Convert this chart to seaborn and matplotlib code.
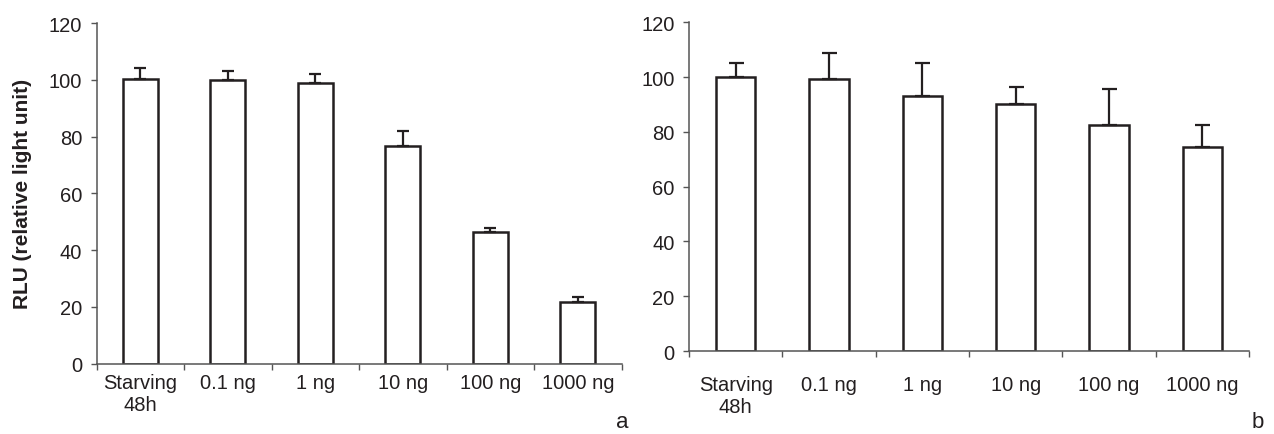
import matplotlib
matplotlib.use("Agg")
import matplotlib.pyplot as plt
import numpy as np
import pandas as pd
import seaborn as sns

categories = ["Starving\n48h", "0.1 ng", "1 ng", "10 ng", "100 ng", "1000 ng"]
rlu_a = [100.2, 100.0, 98.9, 76.7, 46.4, 21.7]
err_a = [4.1, 3.2, 3.0, 5.3, 1.3, 1.9]
rlu_b = [100.0, 99.4, 93.2, 90.0, 82.5, 74.4]
err_b = [5.1, 9.5, 11.9, 6.4, 13.1, 8.1]
yticks = [0, 20, 40, 60, 80, 100, 120]

sns.set_style("white")
plt.rcParams["font.family"] = ["Liberation Sans", "DejaVu Sans"]
text_col = "#231f20"
axis_col = "#555555"

fig = plt.figure(figsize=(12.74, 4.35), dpi=100)
ax_a = fig.add_axes([0.0759, 0.1616, 0.4121, 0.7832])
ax_b = fig.add_axes([0.5408, 0.1908, 0.4396, 0.7556])


def draw_panel(ax, vals, errs, width, cap, xpad):
    df = pd.DataFrame({"cat": categories, "rlu": vals})
    sns.barplot(data=df, x="cat", y="rlu", ax=ax, color="white", edgecolor=text_col,
                linewidth=1.8, width=width, errorbar=None)
    pos = np.arange(len(categories))
    ax.errorbar(pos, vals, yerr=[np.zeros(len(vals)), errs], fmt="none",
                ecolor=text_col, elinewidth=1.6, capsize=cap, capthick=1.6)
    ax.set_xlim(-0.5, len(categories) - 0.5)
    ax.set_ylim(0, 120)
    ax.set_yticks(yticks)
    ax.set_yticklabels([str(t) for t in yticks])
    ax.set_xticks(np.arange(len(categories) + 1) - 0.5)
    ax.set_xticklabels([])
    ax.set_xticks(pos, minor=True)
    ax.set_xticklabels(categories, minor=True, fontsize=14.5, color=text_col)
    ax.tick_params(axis="x", which="major", direction="out", length=4.5, width=1,
                   color=axis_col, bottom=True)
    ax.tick_params(axis="x", which="minor", length=0, pad=xpad, bottom=True)
    ax.tick_params(axis="y", direction="out", length=4.5, width=1, color=axis_col,
                   labelsize=14.5, labelcolor=text_col, pad=6, left=True)
    for s in ["top", "right"]:
        ax.spines[s].set_visible(False)
    for s in ["left", "bottom"]:
        ax.spines[s].set_color(axis_col)
        ax.spines[s].set_linewidth(1.1)
    ax.set_xlabel("")
    ax.set_ylabel("")


draw_panel(ax_a, rlu_a, err_a, 0.40, 4.1, 7)
draw_panel(ax_b, rlu_b, err_b, 0.424, 5.4, 17)

ax_a.set_ylabel("RLU (relative light unit)", fontsize=15, fontweight="bold",
                color=text_col, labelpad=12)

# panel letters sit right on the bottom edge
fig.text(622 / 1274, 0.004, "a", fontsize=16, color=text_col, ha="center", va="bottom")
fig.text(1258 / 1274, 0.004, "b", fontsize=16, color=text_col, ha="center", va="bottom")

fig.savefig("out.png", dpi=100)
